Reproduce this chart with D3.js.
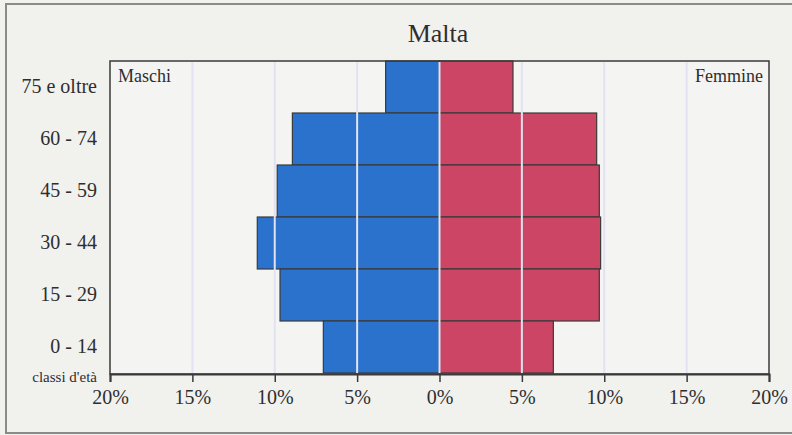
<!DOCTYPE html>
<html><head><meta charset="utf-8">
<script src="https://cdn.jsdelivr.net/npm/d3@7"></script>
<style>
html,body{margin:0;padding:0;background:#f1f1ee;}
svg{display:block;}
text{font-family:"Liberation Serif","DejaVu Serif",serif;fill:#2e2e2e;}
</style></head>
<body>
<script>
const categories = ["75 e oltre","60 - 74","45 - 59","30 - 44","15 - 29","0 - 14"];
const maschi  = [3.27, 8.93, 9.85, 11.06, 9.68, 7.05];
const femmine = [4.46, 9.54, 9.70, 9.78, 9.70, 6.91];
const tickValues = [-20,-15,-10,-5,0,5,10,15,20];
const tickLabels = ["20%","15%","10%","5%","0%","5%","10%","15%","20%"];
const title = "Malta";

(function(){
const W = 792, H = 435;
const svg = d3.select("body").append("svg").attr("width", W).attr("height", H);

svg.append("rect").attr("width", W).attr("height", H).attr("fill", "#f1f1ee");
// frame
svg.append("rect").attr("x", 6).attr("y", 4).attr("width", 820).attr("height", 429)
  .attr("fill", "none").attr("stroke", "#8a8a8a").attr("stroke-width", 2);

const pL = 110, pR = 769, pT = 61, pB = 374;
const x = d3.scaleLinear().domain([-20, 20]).range([pL, pR]);
const y = d3.scaleBand().domain(categories).range([pT, pB - 1]).padding(0);

svg.append("text").attr("x", 438).attr("y", 42).attr("text-anchor", "middle")
  .attr("font-size", 26).text(title);

// plot background
svg.append("rect").attr("x", pL).attr("y", pT).attr("width", pR - pL).attr("height", pB - pT)
  .attr("fill", "#f4f4f2");

// bars
const g = svg.append("g");
g.selectAll("rect.m").data(categories).join("rect").attr("class", "m")
  .attr("x", (d, i) => x(-maschi[i])).attr("y", d => y(d))
  .attr("width", (d, i) => x(0) - x(-maschi[i])).attr("height", y.bandwidth())
  .attr("fill", "#2b72cc").attr("stroke", "#3a3a3a").attr("stroke-width", 1.2);
g.selectAll("rect.f").data(categories).join("rect").attr("class", "f")
  .attr("x", x(0)).attr("y", d => y(d))
  .attr("width", (d, i) => x(femmine[i]) - x(0)).attr("height", y.bandwidth())
  .attr("fill", "#cc4565").attr("stroke", "#3a3a3a").attr("stroke-width", 1.2);

// gridlines over bars
svg.append("g").selectAll("line").data(tickValues.filter(v => Math.abs(v) < 20)).join("line")
  .attr("x1", d => x(d)).attr("x2", d => x(d)).attr("y1", pT + 1).attr("y2", pB - 1)
  .attr("stroke", "#e2e2f2").attr("stroke-width", 2);

// plot box
svg.append("rect").attr("x", pL).attr("y", pT).attr("width", pR - pL).attr("height", pB - pT)
  .attr("fill", "none").attr("stroke", "#3a3a3a").attr("stroke-width", 1.5);

// x axis
const xAxis = d3.axisBottom(x).tickValues(tickValues)
  .tickFormat((d, i) => tickLabels[i]).tickSize(8).tickPadding(8);
const ax = svg.append("g").attr("transform", `translate(0,${pB})`).call(xAxis);
ax.select(".domain").attr("stroke", "#3a3a3a").attr("stroke-width", 2);
ax.selectAll(".tick line").attr("stroke", "#3a3a3a").attr("stroke-width", 1.5);
ax.selectAll(".tick text").attr("font-size", 20).attr("font-family", "Liberation Serif").attr("fill", "#2e2e2e");

// y labels
const yAxis = d3.axisLeft(y).tickSize(0).tickPadding(13);
const ay = svg.append("g").attr("transform", `translate(${pL},0)`).call(yAxis);
ay.select(".domain").remove();
ay.selectAll(".tick text").attr("font-size", 20).attr("font-family", "Liberation Serif").attr("fill", "#2e2e2e");

svg.append("text").attr("x", 97).attr("y", 382).attr("text-anchor", "end")
  .attr("font-size", 15).text("classi d'età");
svg.append("text").attr("x", 118).attr("y", 82).attr("font-size", 18).text("Maschi");
svg.append("text").attr("x", 763).attr("y", 82).attr("text-anchor", "end").attr("font-size", 18).text("Femmine");
})();
</script>
</body></html>
